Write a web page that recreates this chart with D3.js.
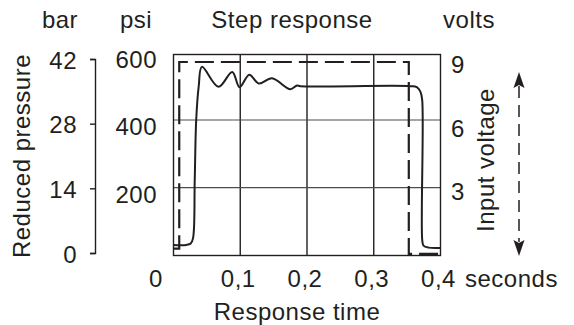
<!DOCTYPE html>
<html>
<head>
<meta charset="utf-8">
<script src="https://cdn.jsdelivr.net/npm/d3@7"></script>
<style>
  body { margin: 0; background: #fff; }
  svg text { font-family: "Liberation Sans", Arial, sans-serif; font-size: 24px; letter-spacing: 0.5px; fill: #231f20; }
</style>
</head>
<body>
<div id="chart"></div>
<script>
// ticks and labels
var timeTicks = [0, 0.1, 0.2, 0.3, 0.4];
var timeLabels = ["0", "0,1", "0,2", "0,3", "0,4"];
var barTicks = [0, 14, 28, 42];
var psiTicks = [200, 400, 600];
var voltTicks = [3, 6, 9];

// reduced pressure (psi) - solid line
var pressTime = [0, 0.019, 0.0258, 0.0293, 0.0318, 0.034, 0.0378, 0.0426, 0.0675, 0.088, 0.099, 0.1135, 0.1275, 0.1476, 0.175, 0.185, 0.19, 0.355, 0.3645, 0.370, 0.3726, 0.3726, 0.3745, 0.382, 0.4];
var pressPsi  = [31, 31, 35, 51, 223, 400, 500, 557, 498, 542, 497, 534, 508, 523, 491, 502, 500, 500, 497, 483, 459, 46, 29, 23, 22];

// input voltage (volts) - dashed line
var voltTime = [0, 0.0086, 0.0086, 0.3525, 0.3525, 0.4];
var voltVal  = [0.3, 0.3, 8.57, 8.57, 0.07, 0.07];

var width = 574, height = 325;
var svg = d3.select("#chart").append("svg")
    .attr("width", width)
    .attr("height", height);

var x = d3.scaleLinear().domain([0, 0.4]).range([173.5, 440.5]);
var yPsi = d3.scaleLinear().domain([0, 600]).range([255.4, 52.3]);
var yVolt = d3.scaleLinear().domain([0, 9]).range([255.4, 52.3]);
var yBar = d3.scaleLinear().domain([0, 42]).range([253, 59]);
// label placement for the right hand scale
var yVoltLabel = d3.scaleLinear().domain([0, 9]).range([255.5, 65]);

var ink = "#231f20";

// grid
svg.selectAll(".vgrid")
   .data(timeTicks.slice(1, 4))
   .enter().append("line")
   .attr("x1", function(d) { return x(d); })
   .attr("x2", function(d) { return x(d); })
   .attr("y1", 54.5).attr("y2", 255.5)
   .attr("stroke", ink).attr("stroke-width", 1.4);

svg.selectAll(".hgrid")
   .data([200, 400])
   .enter().append("line")
   .attr("x1", 173.5).attr("x2", 440.5)
   .attr("y1", function(d) { return yPsi(d); })
   .attr("y2", function(d) { return yPsi(d); })
   .attr("stroke", "#4d4d4f").attr("stroke-width", 1.2);

// frame
svg.append("rect")
   .attr("x", 173.5).attr("y", 54.5)
   .attr("width", 267).attr("height", 201)
   .attr("fill", "none").attr("stroke", ink).attr("stroke-width", 1.4);

// input voltage
var voltLine = d3.line()
    .x(function(d, i) { return x(voltTime[i]); })
    .y(function(d) { return yVolt(d); });

svg.append("path")
   .attr("d", voltLine(voltVal))
   .attr("fill", "none")
   .attr("stroke", ink)
   .attr("stroke-width", 2.2)
   .attr("stroke-dasharray", "19,7");

// reduced pressure
var pressLine = d3.line()
    .x(function(d, i) { return x(pressTime[i]); })
    .y(function(d) { return yPsi(d); })
    .curve(d3.curveCatmullRom.alpha(0.5));

svg.append("path")
   .attr("d", pressLine(pressPsi))
   .attr("fill", "none")
   .attr("stroke", ink)
   .attr("stroke-width", 2);

// bar axis
var barAxis = d3.axisLeft(yBar).tickValues(barTicks).tickSize(5).tickPadding(13);
var gBar = svg.append("g").attr("transform", "translate(95,0)").call(barAxis);
gBar.selectAll("path, line").attr("stroke", ink).attr("stroke-width", 1.4);
gBar.selectAll("text").attr("dy", "0.38em");

// psi labels
svg.selectAll(".psi")
   .data(psiTicks)
   .enter().append("text")
   .attr("x", 157)
   .attr("y", function(d) { return yPsi(d) + 7; })
   .attr("dy", "0.35em")
   .attr("text-anchor", "end")
   .text(function(d) { return d; });

// volt labels
svg.selectAll(".volt")
   .data(voltTicks)
   .enter().append("text")
   .attr("x", 451)
   .attr("y", function(d) { return yVoltLabel(d); })
   .attr("dy", "0.35em")
   .text(function(d) { return d; });

// time labels
svg.selectAll(".time")
   .data(timeTicks)
   .enter().append("text")
   .attr("x", function(d) { return d === 0 ? x(d) - 17.5 : x(d) - 2; })
   .attr("y", 287)
   .attr("text-anchor", "middle")
   .text(function(d, i) { return timeLabels[i]; });

svg.append("text").attr("x", 465).attr("y", 287).text("seconds");

// headings
svg.append("text").attr("x", 60).attr("y", 28).attr("text-anchor", "middle").text("bar");
svg.append("text").attr("x", 136).attr("y", 28).attr("text-anchor", "middle").text("psi");
svg.append("text").attr("x", 292).attr("y", 28).attr("text-anchor", "middle").text("Step response");
svg.append("text").attr("x", 469).attr("y", 28).attr("text-anchor", "middle").text("volts");

// axis titles
svg.append("text").attr("x", 297).attr("y", 320).attr("text-anchor", "middle").text("Response time");
svg.append("text")
   .attr("transform", "translate(30,156) rotate(-90)")
   .attr("text-anchor", "middle")
   .text("Reduced pressure");
svg.append("text")
   .attr("transform", "translate(494,160) rotate(-90)")
   .attr("text-anchor", "middle")
   .text("Input voltage");

// double arrow next to the voltage title
svg.append("line")
   .attr("x1", 519).attr("x2", 519)
   .attr("y1", 86).attr("y2", 242)
   .attr("stroke", ink).attr("stroke-width", 1.5)
   .attr("stroke-dasharray", "12,7");
svg.append("path").attr("d", "M519,72L524.5,88L519,85L513.5,88Z").attr("fill", ink);
svg.append("path").attr("d", "M519,256L524.5,240L519,243L513.5,240Z").attr("fill", ink);
</script>
</body>
</html>
